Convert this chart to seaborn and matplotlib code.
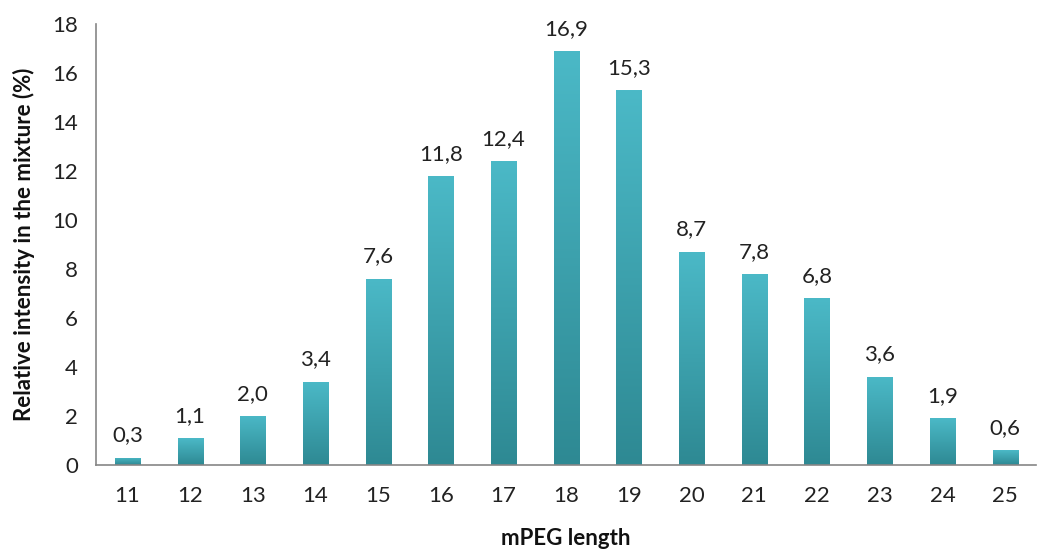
import numpy as np
import pandas as pd
import matplotlib
matplotlib.use("Agg")
import matplotlib.pyplot as plt
import seaborn as sns
from matplotlib.colors import LinearSegmentedColormap

lengths = ["11", "12", "13", "14", "15", "16", "17", "18", "19", "20", "21", "22", "23", "24", "25"]
intensity = [0.3, 1.1, 2.0, 3.4, 7.6, 11.8, 12.4, 16.9, 15.3, 8.7, 7.8, 6.8, 3.6, 1.9, 0.6]

data = pd.DataFrame({"mPEG length": lengths, "Intensity": intensity})

sns.set_style("white")
plt.rcParams['font.family'] = ['Lato', 'DejaVu Sans']

fig = plt.figure(figsize=(10.38, 5.52), dpi=100)
ax = fig.add_axes([0.0925, 0.1576, 0.906, 0.799])

sns.barplot(data=data, x="mPEG length", y="Intensity", color="#45b3c1", width=0.4, ax=ax)

# vertical gradient on each bar
cmap = LinearSegmentedColormap.from_list("teal", ["#2e8993", "#4bb9c7"])
grad = np.linspace(0, 1, 256).reshape(-1, 1)
for p in ax.patches:
    x0, y0 = p.get_x(), p.get_y()
    w, h = p.get_width(), p.get_height()
    im = ax.imshow(grad, extent=[x0, x0 + w, y0, y0 + h], origin="lower",
                   cmap=cmap, aspect="auto", zorder=p.get_zorder() + 0.1)
    im.set_clip_path(p)
    ax.text(x0 + w / 2, h + 0.5, f"{h:.1f}".replace(".", ","), ha="center", va="bottom",
            fontsize=16, color="#222222")

ax.set_xlim(-0.5, len(lengths) - 0.5)
ax.set_ylim(0, 18)
ax.set_yticks(range(0, 19, 2))
ax.set_xticks(np.arange(-0.5, len(lengths), 1), minor=True)

ax.tick_params(axis="x", which="major", length=0, labelsize=16, pad=15, colors="#222222")
ax.tick_params(axis="x", which="minor", length=8, width=1.2, color="#868686", direction="out")
ax.tick_params(axis="y", length=8, width=1.2, color="#868686", direction="out", labelsize=16,
               labelcolor="#222222", pad=5)

for side in ["top", "right"]:
    ax.spines[side].set_visible(False)
for side in ["left", "bottom"]:
    ax.spines[side].set_color("#868686")
    ax.spines[side].set_linewidth(1.2)

ax.set_xlabel("mPEG length", fontsize=16, fontweight="bold", labelpad=16, color="#111111")
ax.set_ylabel("Relative intensity in the mixture (%)", fontsize=16, fontweight="bold",
              labelpad=12, color="#111111")

plt.savefig("out.png", dpi=100)
